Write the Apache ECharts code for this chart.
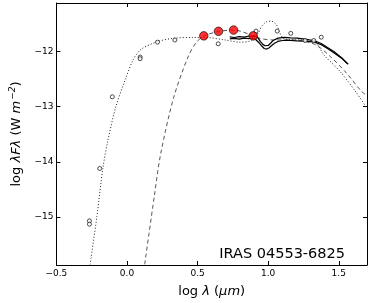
<!DOCTYPE html>
<html>
<head>
<meta charset="utf-8">
<script src="https://cdn.jsdelivr.net/npm/echarts@6/dist/echarts.min.js"></script>
<style>
html,body{margin:0;padding:0;background:#fff;}
#c{width:371px;height:303px;}
</style>
</head>
<body>
<div id="c"></div>
<script>
// x: log lambda (um), y: log lambda F lambda (W m^-2)
const xTicks = [-0.5, 0.0, 0.5, 1.0, 1.5];
const yTicks = [-15, -14, -13, -12];

const modelDotted = [
  [-0.261,-15.86],[-0.213,-14.99],[-0.171,-14.12],[-0.136,-13.62],[-0.079,-13.00],
  [-0.011,-12.50],[0.046,-12.14],[0.100,-11.96],[0.216,-11.82],[0.330,-11.76],
  [0.467,-11.745],[0.557,-11.745],[0.694,-11.79],[0.796,-11.83],[0.870,-11.81],
  [0.932,-11.656],[0.955,-11.54],[0.989,-11.46],[1.023,-11.45],[1.057,-11.51],
  [1.074,-11.60],[1.090,-11.70],[1.115,-11.775],[1.240,-11.79],[1.319,-11.805],
  [1.398,-12.07],[1.512,-12.37],[1.626,-12.75],[1.700,-13.03]
];
const modelDashed = [
  [0.1255,-15.857],[0.194,-14.614],[0.239,-13.85],[0.330,-12.84],[0.432,-12.10],
  [0.489,-11.84],[0.546,-11.716],[0.648,-11.638],[0.755,-11.61],[0.898,-11.716],
  [0.946,-11.765],[1.035,-11.79],[1.171,-11.79],[1.330,-11.87],[1.444,-12.10],
  [1.558,-12.40],[1.660,-12.72],[1.700,-12.80]
];
const spectrumA = [
  [0.728,-11.735],[0.760,-11.745],[0.796,-11.730],[0.830,-11.740],[0.864,-11.718],
  [0.890,-11.730],[0.910,-11.716],[0.930,-11.760],[0.944,-11.815],[0.962,-11.870],
  [0.978,-11.895],[1.001,-11.890],[1.020,-11.840],[1.035,-11.800],[1.069,-11.757],
  [1.115,-11.744],[1.160,-11.752],[1.205,-11.757],[1.260,-11.775],[1.328,-11.805],
  [1.376,-11.855],[1.420,-11.925],[1.465,-12.000],[1.520,-12.110],[1.567,-12.231]
];
const spectrumB = [
  [0.728,-11.770],[0.760,-11.762],[0.796,-11.775],[0.830,-11.758],[0.864,-11.765],
  [0.890,-11.755],[0.910,-11.778],[0.935,-11.840],[0.955,-11.900],[0.972,-11.945],
  [0.989,-11.955],[1.005,-11.935],[1.023,-11.895],[1.045,-11.850],[1.069,-11.818],
  [1.100,-11.800],[1.137,-11.795],[1.205,-11.805],[1.260,-11.812],[1.328,-11.830],
  [1.376,-11.878],[1.420,-11.945],[1.465,-12.020],[1.520,-12.120],[1.560,-12.220]
];
const photometry = [
  [-0.266,-15.07],[-0.266,-15.13],[-0.193,-14.12],[-0.104,-12.82],[0.093,-12.10],
  [0.093,-12.13],[0.216,-11.83],[0.339,-11.79],[0.646,-11.86],[0.914,-11.63],
  [1.064,-11.63],[1.160,-11.67],[1.262,-11.80],[1.323,-11.80],[1.376,-11.74]
];
const redPhot = [[0.544,-11.716],[0.648,-11.633],[0.755,-11.611],[0.894,-11.716]];

const FONT = 'DejaVu Sans';
const fmt = v => (v < 0 ? '\u2212' : '') + Math.abs(v).toFixed(1);
const fmtY = v => (v < 0 ? '\u2212' : '') + Math.abs(v).toFixed(0);

const chart = echarts.init(document.getElementById('c'), null, {renderer: 'canvas'});
const axisCommon = {
  axisLine: {show: true, onZero: false, lineStyle: {color: '#000', width: 1}},
  splitLine: {show: false}
};
chart.setOption({
  animation: false,
  backgroundColor: '#fff',
  grid: {left: 45, right: 4, top: 3, bottom: 32},
  xAxis: [
    Object.assign({
      type: 'value', min: -0.5, max: 1.7, interval: 0.5, position: 'bottom',
      axisTick: {inside: true, length: 4, customValues: xTicks, lineStyle: {color: '#000'}},
      axisLabel: {customValues: xTicks, formatter: fmt, fontFamily: FONT, fontSize: 9, color: '#000', margin: 4},
      name: '{n|log }{i|\u03bb}{n| (}{i|\u03bcm}{n|)}',
      nameLocation: 'middle', nameGap: 20,
      nameTextStyle: {rich: {
        n: {fontFamily: FONT, fontSize: 13, color: '#000'},
        i: {fontFamily: FONT, fontStyle: 'italic', fontSize: 13, color: '#000'}
      }}
    }, axisCommon),
    Object.assign({
      type: 'value', min: -0.5, max: 1.7, interval: 0.5, position: 'top',
      axisTick: {inside: true, length: 4, customValues: xTicks, lineStyle: {color: '#000'}},
      axisLabel: {show: false}
    }, axisCommon)
  ],
  yAxis: [
    Object.assign({
      type: 'value', min: -15.87, max: -11.12, position: 'left',
      axisTick: {inside: true, length: 4, customValues: yTicks, lineStyle: {color: '#000'}},
      axisLabel: {customValues: yTicks, formatter: fmtY, fontFamily: FONT, fontSize: 9, color: '#000', margin: 3},
      name: '{n|log }{i|\u03bbF\u03bb}{n| (W }{i|m}{s|\u22122}{n|)}',
      nameLocation: 'middle', nameGap: 30,
      nameTextStyle: {rich: {
        n: {fontFamily: FONT, fontSize: 13, color: '#000'},
        i: {fontFamily: FONT, fontStyle: 'italic', fontSize: 13, color: '#000'},
        s: {fontFamily: FONT, fontStyle: 'italic', fontSize: 9, color: '#000', padding: [0, 0, 9, 1]}
      }}
    }, axisCommon),
    Object.assign({
      type: 'value', min: -15.87, max: -11.12, position: 'right',
      axisTick: {inside: true, length: 4, customValues: yTicks, lineStyle: {color: '#000'}},
      axisLabel: {show: false}
    }, axisCommon)
  ],
  series: [
    {type: 'line', data: modelDotted, showSymbol: false, smooth: 0.3,
     lineStyle: {type: [1, 2], color: '#222', width: 1}, z: 2},
    {type: 'line', data: modelDashed, showSymbol: false, smooth: 0.3,
     lineStyle: {type: [4, 3], color: '#555', width: 1}, z: 2},
    {type: 'line', data: spectrumA, showSymbol: false, smooth: false,
     lineStyle: {color: '#000', width: 1.2}, z: 3},
    {type: 'line', data: spectrumB, showSymbol: false, smooth: false,
     lineStyle: {color: '#000', width: 1.2}, z: 3},
    {type: 'scatter', data: photometry, symbol: 'circle', symbolSize: 4,
     itemStyle: {color: '#fff', borderColor: '#222', borderWidth: 1}, z: 4},
    {type: 'scatter', data: redPhot, symbol: 'circle', symbolSize: 8.5,
     itemStyle: {color: '#ff0000', borderColor: '#000', borderWidth: 0.8}, z: 5}
  ],
  graphic: [{
    type: 'text', right: 26, top: 247,
    style: {text: 'IRAS 04553-6825', fontFamily: FONT, fontSize: 14.5, fill: '#000'}
  }]
});
</script>
</body>
</html>
